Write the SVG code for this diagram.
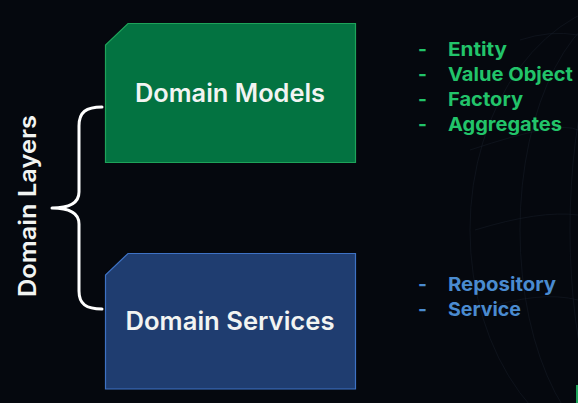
<svg xmlns="http://www.w3.org/2000/svg" width="578" height="403" viewBox="0 0 578 403">
<defs>
<style>
.bg{fill:#05080e}
.globe{fill:none;stroke:#1b2330;stroke-width:0.8;opacity:0.5}
.title{font-family:Inter,"Open Sans","Liberation Sans",sans-serif;font-weight:600;fill:#f2f4f2;text-anchor:middle}
.item{font-family:Inter,"Open Sans","Liberation Sans",sans-serif;font-weight:700;font-size:19px}
.g{fill:#22c46a}
.b{fill:#4a8bd0}
.brace{fill:none;stroke:#ffffff;stroke-width:3;stroke-linecap:round;stroke-linejoin:round}
</style>
</defs>
<rect class="bg" x="0" y="0" width="578" height="403"/>
<g id="globe">
<ellipse class="globe" cx="640" cy="230" rx="170" ry="230"/>
<ellipse class="globe" cx="640" cy="230" rx="120" ry="230"/>
<ellipse class="globe" cx="640" cy="230" rx="70" ry="230"/>
<path class="globe" d="M470 150 Q560 120 578 130"/>
<path class="globe" d="M475 230 Q540 210 578 215"/>
<path class="globe" d="M480 310 Q540 290 578 300"/>
<path class="globe" d="M520 40 Q550 30 578 35"/>
</g>
<g id="connectors">
<path class="brace" d="M102 107 C86 107 79 112 79 126 L79 192 C79 203 70 208 52 208 C70 208 79 213 79 224 L79 291 C79 304 86 309 102 309"/>
</g>
<g id="label-domain-layers">
<text class="title" font-size="24" transform="translate(36 206) rotate(-90)" textLength="182" lengthAdjust="spacingAndGlyphs">Domain Layers</text>
</g>
<g id="node-domain-models">
<path d="M128 23.5 L355.5 23.5 L355.5 162.5 L105.5 162.5 L105.5 45 Z" fill="#037341" stroke="#1ea35a" stroke-width="1.2"/>
<text class="title" font-size="25" x="230" y="101.5" textLength="190" lengthAdjust="spacingAndGlyphs">Domain Models</text>
</g>
<g id="node-domain-services">
<path d="M128 253.5 L355.5 253.5 L355.5 389 L105.5 389 L105.5 275 Z" fill="#1f3d70" stroke="#3e72c4" stroke-width="1.2"/>
<text class="title" font-size="25" x="230" y="330" textLength="209" lengthAdjust="spacingAndGlyphs">Domain Services</text>
</g>
<g id="list-models">
<text class="item g" x="418" y="56">-</text><text class="item g" x="448" y="56" textLength="59" lengthAdjust="spacingAndGlyphs">Entity</text>
<text class="item g" x="418" y="81">-</text><text class="item g" x="448" y="81" textLength="125" lengthAdjust="spacingAndGlyphs">Value Object</text>
<text class="item g" x="418" y="106">-</text><text class="item g" x="448" y="106" textLength="75" lengthAdjust="spacingAndGlyphs">Factory</text>
<text class="item g" x="418" y="131">-</text><text class="item g" x="448" y="131" textLength="114" lengthAdjust="spacingAndGlyphs">Aggregates</text>
</g>
<g id="list-services">
<text class="item b" x="418" y="291">-</text><text class="item b" x="448" y="291" textLength="108" lengthAdjust="spacingAndGlyphs">Repository</text>
<text class="item b" x="418" y="316">-</text><text class="item b" x="448" y="316" textLength="73" lengthAdjust="spacingAndGlyphs">Service</text>
</g>
<rect x="576" y="385" width="2" height="18" fill="#1ea35a"/>
</svg>
